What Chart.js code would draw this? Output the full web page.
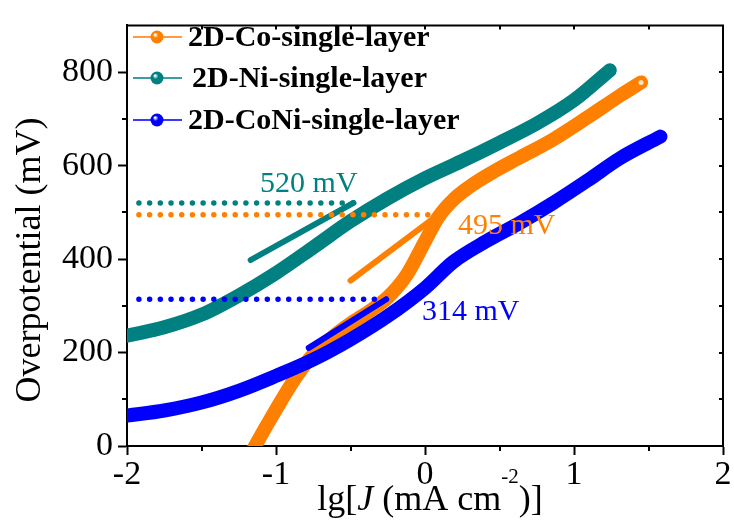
<!DOCTYPE html>
<html>
<head>
<meta charset="utf-8">
<script src="https://cdn.jsdelivr.net/npm/chart.js@4.4.1/dist/chart.umd.min.js"></script>
<style>
  html, body { margin: 0; padding: 0; background: #fff; }
  canvas { display: block; }
</style>
</head>
<body>
<canvas id="c" width="734" height="532"></canvas>
<script>
// ---- data ----
const seriesNames = ['2D-Co-single-layer', '2D-Ni-single-layer', '2D-CoNi-single-layer'];

// Tafel curves: lg J (mA cm^-2) vs overpotential (mV)
const coX   = [-1.19, -1.14, -1.0, -0.875, -0.75, -0.625, -0.5, -0.375, -0.25, -0.125, 0.0, 0.09, 0.19, 0.30, 0.45, 0.64, 0.86, 1.09, 1.31, 1.45];
const coY   = [-30, 0, 78, 143, 196, 232, 262, 288, 318, 365, 438, 490, 527, 555, 585, 618, 656, 703, 750, 778];
const niX   = [-2.0, -1.75, -1.5, -1.25, -1.0, -0.75, -0.5, -0.25, 0.0, 0.25, 0.5, 0.75, 1.0, 1.24];
const niY   = [236, 254, 281, 322, 370, 425, 481, 530, 573, 610, 649, 690, 740, 804];
const coniX = [-2.0, -1.75, -1.5, -1.25, -1.0, -0.75, -0.5, -0.25, 0.0, 0.19, 0.41, 0.64, 0.86, 1.09, 1.31, 1.58];
const coniY = [65, 76, 93, 118, 150, 185, 228, 278, 338, 394, 438, 478, 520, 568, 616, 662];

// linear fits (tangent segments)
const coTanX   = [-0.50, 0.09];
const coTanY   = [354, 495];
const niTanX   = [-1.17, -0.48];
const niTanY   = [398, 520];
const coniTanX = [-0.78, -0.26];
const coniTanY = [210, 314];

// onset overpotentials (mV) and the lg J where each guide line stops
const onsetMV    = [495, 520, 314];
const onsetStart = -1.92;
const onsetEnd   = [0.09, -0.48, -0.27];
const onsetText  = onsetMV.map(v => v + ' mV');

// axis ticks
const xTicks = [-2, -1, 0, 1, 2];
const xTickLabels = ['-2', '-1', '0', '1', '2'];
const xMinor = [-1.5, -0.5, 0.5, 1.5];
const yTicks = [0, 200, 400, 600, 800];
const yTickLabels = ['0', '200', '400', '600', '800'];
const yMinor = [100, 300, 500, 700];

// ---- styling ----
const colors = ['#FF8000', '#008080', '#0000FF'];
const legendLine = ['#FF9A40', '#3A9E9E', '#3A3AFF'];
const SERIF = '"Liberation Serif", "Times New Roman", serif';

const pts = (xs, ys) => xs.map((x, i) => ({ x: x, y: ys[i] }));

function thick(data, color, order, endDot) {
  return {
    data: data, borderColor: color, borderWidth: 14, order: order,
    borderCapStyle: 'round', borderJoinStyle: 'round',
    cubicInterpolationMode: 'monotone', clip: 0,
    pointRadius: endDot ? (c => c.dataIndex === data.length - 1 ? 2.5 : 0) : 0,
    pointBackgroundColor: '#FFE2C4', pointBorderWidth: 0
  };
}
function tangent(data, color) {
  return { data: data, borderColor: color, borderWidth: 6, order: 1,
    borderCapStyle: 'round', pointRadius: 0, clip: 0 };
}
function dotted(i) {
  return { data: [{ x: onsetStart, y: onsetMV[i] }, { x: onsetEnd[i], y: onsetMV[i] }],
    borderColor: colors[i], borderWidth: 5.5, borderDash: [0, 10.7],
    borderCapStyle: 'round', pointRadius: 0, order: 0, clip: 0 };
}

// positions of the onset value labels, in data units
const labelAt = [
  { x: 0.221, y: 454 },
  { x: -1.107, y: 544 },
  { x: -0.02, y: 270 }
];

const decor = {
  id: 'decor',
  afterDatasetsDraw(chart) {
    const ctx = chart.ctx, xs = chart.scales.x, ys = chart.scales.y;
    ctx.save();
    ctx.font = '30px ' + SERIF;
    ctx.textBaseline = 'alphabetic';
    ctx.textAlign = 'left';
    onsetText.forEach((t, i) => {
      ctx.fillStyle = colors[i];
      ctx.fillText(t, xs.getPixelForValue(labelAt[i].x), ys.getPixelForValue(labelAt[i].y));
    });
    ctx.restore();
  },
  afterDraw(chart) {
    const ctx = chart.ctx, a = chart.chartArea, xs = chart.scales.x, ys = chart.scales.y;
    ctx.save();
    ctx.strokeStyle = '#000';
    ctx.lineWidth = 2;
    // top and right frame
    ctx.beginPath();
    ctx.moveTo(a.left - 1, a.top); ctx.lineTo(a.right, a.top); ctx.lineTo(a.right, a.bottom + 1);
    ctx.stroke();
    ctx.beginPath();
    // minor ticks outside bottom/left
    xMinor.forEach(v => { const p = Math.round(xs.getPixelForValue(v)); ctx.moveTo(p, a.bottom); ctx.lineTo(p, a.bottom + 5); });
    yMinor.forEach(v => { const p = Math.round(ys.getPixelForValue(v)); ctx.moveTo(a.left, p); ctx.lineTo(a.left - 5, p); });
    // inward ticks on top/right
    xTicks.concat(xMinor).forEach(v => { const p = Math.round(xs.getPixelForValue(v)); ctx.moveTo(p, a.top); ctx.lineTo(p, a.top + 4); });
    yTicks.concat(yMinor).forEach(v => { const p = Math.round(ys.getPixelForValue(v)); ctx.moveTo(a.right, p); ctx.lineTo(a.right - 4, p); });
    ctx.stroke();

    // axis titles
    ctx.fillStyle = '#000';
    ctx.textBaseline = 'alphabetic';
    const big = '36px ' + SERIF;
    const parts = [
      { t: 'lg[', f: big, dy: 0 },
      { t: 'J', f: 'italic ' + big, dy: 0 },
      { t: ' (mA cm', f: big, dy: 0 },
      { t: '-2', f: '21px ' + SERIF, dy: -27 },
      { t: ')]', f: big, dy: 0 }
    ];
    let w = 0;
    parts.forEach(p => { ctx.font = p.f; p.w = ctx.measureText(p.t).width; w += p.w; });
    let x = (a.left + a.right) / 2 + 5 - w / 2;
    ctx.textAlign = 'left';
    parts.forEach(p => { ctx.font = p.f; ctx.fillText(p.t, x, 510 + p.dy); x += p.w; });

    ctx.save();
    ctx.translate(31, 260);
    ctx.rotate(-Math.PI / 2);
    ctx.font = big;
    ctx.textAlign = 'center';
    ctx.textBaseline = 'middle';
    ctx.fillText('Overpotential (mV)', 0, 0);
    ctx.restore();

    // legend
    const rows = [37, 78, 120];
    seriesNames.forEach((name, i) => {
      const y = rows[i];
      ctx.strokeStyle = legendLine[i];
      ctx.lineWidth = 2;
      ctx.beginPath(); ctx.moveTo(133, y); ctx.lineTo(182, y); ctx.stroke();
      const g = ctx.createRadialGradient(155, y - 2.5, 0.5, 157, y, 7);
      g.addColorStop(0, '#FFFFFF');
      g.addColorStop(0.35, colors[i]);
      g.addColorStop(1, colors[i]);
      ctx.fillStyle = g;
      ctx.beginPath(); ctx.arc(157, y, 6.5, 0, Math.PI * 2); ctx.fill();
      ctx.fillStyle = '#000';
      ctx.font = 'bold 30px ' + SERIF;
      ctx.textAlign = 'left';
      ctx.textBaseline = 'middle';
      ctx.fillText(name, i === 1 ? 192 : 188, y + 1);
    });
    ctx.restore();
  }
};

new Chart(document.getElementById('c'), {
  type: 'line',
  data: {
    datasets: [
      dotted(0), dotted(1), dotted(2),
      tangent(pts(coTanX, coTanY), colors[0]),
      tangent(pts(niTanX, niTanY), colors[1]),
      tangent(pts(coniTanX, coniTanY), colors[2]),
      Object.assign(thick(pts(coniX, coniY), colors[2], 2, false), { label: seriesNames[2] }),
      Object.assign(thick(pts(coX, coY), colors[0], 3, true), { label: seriesNames[0] }),
      Object.assign(thick(pts(niX, niY), colors[1], 4, false), { label: seriesNames[1] })
    ]
  },
  options: {
    responsive: false,
    devicePixelRatio: 1,
    animation: false,
    events: [],
    layout: { padding: { left: 0, top: 14, right: 11, bottom: 0 } },
    plugins: { legend: { display: false }, tooltip: { enabled: false } },
    scales: {
      x: {
        type: 'linear', position: 'bottom', min: -2, max: 2,
        afterBuildTicks: s => { s.ticks = xTicks.map(v => ({ value: v })); },
        afterFit: s => { s.height = 86; },
        grid: { drawOnChartArea: false, drawTicks: true, tickLength: 9, tickWidth: 2, tickColor: '#000' },
        border: { display: true, width: 2, color: '#000' },
        ticks: {
          color: '#000', padding: 0, maxRotation: 0, autoSkip: false,
          font: { family: SERIF, size: 34 },
          callback: (v) => xTickLabels[xTicks.indexOf(v)]
        }
      },
      y: {
        type: 'linear', position: 'left', min: 0, max: 900,
        afterBuildTicks: s => { s.ticks = yTicks.map(v => ({ value: v })); },
        afterFit: s => { s.width = 127; },
        grid: { drawOnChartArea: false, drawTicks: true, tickLength: 9, tickWidth: 2, tickColor: '#000' },
        border: { display: true, width: 2, color: '#000' },
        ticks: {
          color: '#000', padding: 5, autoSkip: false,
          font: { family: SERIF, size: 34 },
          callback: (v) => yTickLabels[yTicks.indexOf(v)]
        }
      }
    }
  },
  plugins: [decor]
});
</script>
</body>
</html>
